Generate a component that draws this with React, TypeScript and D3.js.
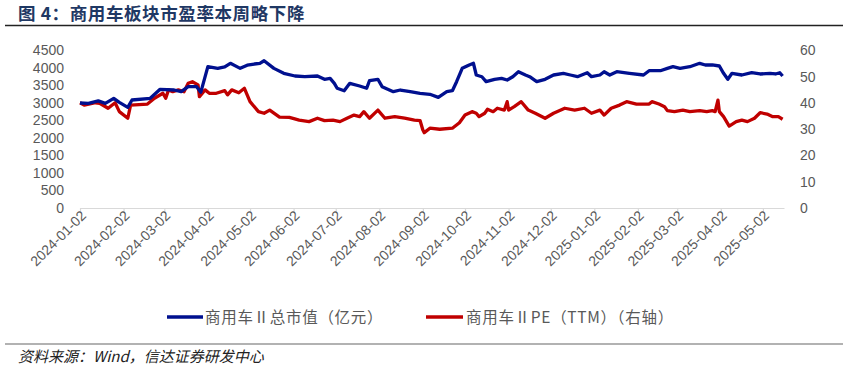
import React, { useEffect, useRef } from "react";
import * as d3 from "d3";

// 商用车Ⅱ总市值（亿元）
const capDates = [
  "2024-01-02", "2024-01-08", "2024-01-15", "2024-01-20", "2024-01-26", "2024-01-30",
  "2024-02-05", "2024-02-08", "2024-02-21", "2024-02-28", "2024-03-09", "2024-03-14",
  "2024-03-19", "2024-03-25", "2024-03-28", "2024-04-02", "2024-04-09", "2024-04-14",
  "2024-04-18", "2024-04-25", "2024-04-30", "2024-05-05", "2024-05-09", "2024-05-12",
  "2024-05-19", "2024-05-26", "2024-06-03", "2024-06-10", "2024-06-19", "2024-06-24",
  "2024-06-28", "2024-07-01", "2024-07-03", "2024-07-08", "2024-07-12", "2024-07-19",
  "2024-07-24", "2024-07-26", "2024-08-01", "2024-08-04", "2024-08-12", "2024-08-17",
  "2024-08-24", "2024-08-31", "2024-09-07", "2024-09-13", "2024-09-19", "2024-09-23",
  "2024-09-26", "2024-09-30", "2024-10-05", "2024-10-08", "2024-10-10", "2024-10-14",
  "2024-10-17", "2024-10-23", "2024-10-28", "2024-11-01", "2024-11-05", "2024-11-09",
  "2024-11-14", "2024-11-17", "2024-11-22", "2024-11-28", "2024-12-04", "2024-12-11",
  "2024-12-16", "2024-12-21", "2024-12-28", "2024-12-31", "2025-01-06", "2025-01-09",
  "2025-01-13", "2025-01-18", "2025-01-27", "2025-02-06", "2025-02-10", "2025-02-18",
  "2025-02-23", "2025-02-27", "2025-03-04", "2025-03-11", "2025-03-18", "2025-03-22",
  "2025-03-27", "2025-04-01", "2025-04-04", "2025-04-07", "2025-04-10", "2025-04-17",
  "2025-04-24", "2025-04-30", "2025-05-07", "2025-05-11", "2025-05-14", "2025-05-16",
];
const capValues = [
  3000, 2990, 3060, 2990, 3134, 3020,
  2877, 3086, 3134, 3391, 3371, 3323,
  3466, 3466, 3310, 4040, 3990, 4030,
  4134, 3990, 4080, 4114, 4134, 4208,
  3990, 3848, 3771, 3751, 3771, 3677,
  3705, 3562, 3420, 3351, 3562, 3486,
  3420, 3637, 3677, 3466, 3323, 3371,
  3323, 3277, 3248, 3162, 3323, 3351,
  3609, 3990, 4086, 4134, 3800, 3751,
  3609, 3677, 3705, 3657, 3751, 3894,
  3800, 3751, 3609, 3677, 3800, 3848,
  3800, 3751, 3865, 3751, 3800, 3894,
  3800, 3894, 3848, 3800, 3923, 3923,
  3990, 4037, 3990, 4037, 4134, 4086,
  4086, 4057, 3848, 3677, 3848, 3800,
  3865, 3829, 3848, 3829, 3865, 3771,
];

// 商用车ⅡPE（TTM）（右轴）
const peDates = [
  "2024-01-02", "2024-01-05", "2024-01-13", "2024-01-16", "2024-01-22", "2024-01-27",
  "2024-01-30", "2024-02-05", "2024-02-07", "2024-02-19", "2024-02-24", "2024-03-01",
  "2024-03-03", "2024-03-05", "2024-03-08", "2024-03-12", "2024-03-16", "2024-03-19",
  "2024-03-22", "2024-03-26", "2024-03-27", "2024-03-31", "2024-04-03", "2024-04-08",
  "2024-04-14", "2024-04-16", "2024-04-19", "2024-04-24", "2024-04-28", "2024-05-02",
  "2024-05-08", "2024-05-12", "2024-05-16", "2024-05-23", "2024-05-30", "2024-06-06",
  "2024-06-13", "2024-06-19", "2024-06-24", "2024-06-30", "2024-07-05", "2024-07-10",
  "2024-07-15", "2024-07-19", "2024-07-22", "2024-07-26", "2024-08-01", "2024-08-06",
  "2024-08-13", "2024-08-20", "2024-08-27", "2024-08-31", "2024-09-02", "2024-09-03",
  "2024-09-07", "2024-09-14", "2024-09-23", "2024-09-28", "2024-10-02", "2024-10-07",
  "2024-10-10", "2024-10-12", "2024-10-16", "2024-10-18", "2024-10-22", "2024-10-25",
  "2024-10-30", "2024-11-01", "2024-11-02", "2024-11-06", "2024-11-11", "2024-11-16",
  "2024-11-21", "2024-11-28", "2024-12-04", "2024-12-12", "2024-12-19", "2024-12-26",
  "2024-12-31", "2025-01-06", "2025-01-09", "2025-01-14", "2025-01-20", "2025-01-25",
  "2025-02-01", "2025-02-10", "2025-02-12", "2025-02-17", "2025-02-21", "2025-02-23",
  "2025-02-28", "2025-03-06", "2025-03-11", "2025-03-18", "2025-03-23", "2025-03-27",
  "2025-03-29", "2025-03-31", "2025-04-01", "2025-04-04", "2025-04-08", "2025-04-13",
  "2025-04-17", "2025-04-21", "2025-04-26", "2025-04-30", "2025-05-05", "2025-05-09",
  "2025-05-13", "2025-05-16",
];
const peValues = [
  40.1, 39.2, 40.1, 39.9, 38.0, 40.1,
  36.7, 34.2, 39.2, 39.6, 41.8, 43.7,
  41.8, 45.0, 44.3, 45.0, 44.3, 47.5,
  48.1, 46.9, 42.4, 45.0, 43.7, 43.7,
  44.7, 43.1, 45.0, 43.9, 45.6, 40.5,
  36.7, 36.1, 37.3, 34.6, 34.5, 33.5,
  32.9, 34.2, 33.3, 33.5, 32.9, 34.2,
  35.4, 34.8, 36.7, 34.2, 37.3, 34.2,
  34.8, 34.2, 33.5, 33.3, 29.7, 28.7,
  30.4, 30.0, 30.4, 32.5, 35.4, 36.7,
  36.1, 34.8, 36.1, 37.6, 36.7, 38.0,
  37.3, 40.5, 37.3, 38.6, 40.5, 37.3,
  36.1, 34.2, 36.1, 38.0, 37.3, 38.0,
  36.1, 37.3, 35.4, 38.0, 39.2, 40.5,
  39.6, 39.6, 40.5, 39.6, 38.6, 37.1,
  36.7, 37.3, 36.7, 37.1, 36.7, 37.1,
  36.7, 41.1, 36.7, 34.8, 31.2, 32.9,
  33.5, 32.9, 34.2, 36.3, 35.8, 34.8,
  34.8, 33.8,
];

const leftTicks = [0, 500, 1000, 1500, 2000, 2500, 3000, 3500, 4000, 4500];
const rightTicks = [0, 10, 20, 30, 40, 50, 60];
const xTickLabels = [
  "2024-01-02", "2024-02-02", "2024-03-02", "2024-04-02", "2024-05-02", "2024-06-02",
  "2024-07-02", "2024-08-02", "2024-09-02", "2024-10-02", "2024-11-02", "2024-12-02",
  "2025-01-02", "2025-02-02", "2025-03-02", "2025-04-02", "2025-05-02",
];

const W = 843, H = 370;
const plot = { left: 80, right: 784, top: 50.5, bottom: 208 };
const blue = "#00108F";
const red = "#C00000";
const grey = "#595959";

export default function App() {
  const ref = useRef<SVGSVGElement>(null);

  useEffect(() => {
    const svg = d3.select(ref.current);
    svg.selectAll("*").remove();
    const parse = d3.timeParse("%Y-%m-%d");

    const x = d3.scaleTime()
      .domain([parse("2024-01-02")!, parse("2025-05-17")!])
      .range([plot.left, plot.right]);
    const yL = d3.scaleLinear().domain([0, 4500]).range([plot.bottom, plot.top]);
    const yR = d3.scaleLinear().domain([0, 60]).range([plot.bottom, plot.top]);

    // x axis
    const xAxis = svg.append("g")
      .attr("transform", "translate(0," + plot.bottom + ")")
      .call(d3.axisBottom(x)
        .tickValues(xTickLabels.map(d => parse(d)!))
        .tickSize(5)
        .tickSizeOuter(0)
        .tickFormat(d3.timeFormat("%Y-%m-%d") as any));
    xAxis.select(".domain").attr("stroke", "#d9d9d9").attr("stroke-width", 1.2);
    xAxis.selectAll(".tick line").attr("stroke", "#d9d9d9").attr("stroke-width", 1.2);
    xAxis.selectAll(".tick text")
      .attr("fill", grey)
      .style("font-family", "'Liberation Sans', Arial, sans-serif")
      .style("font-size", "14px")
      .attr("text-anchor", "end")
      .attr("dy", "0.35em")
      .attr("transform", "translate(3,5) rotate(-45)")
      .attr("y", 0)
      .attr("x", 0);

    // left axis labels
    svg.append("g")
      .selectAll("text")
      .data(leftTicks)
      .enter().append("text")
      .attr("x", 64)
      .attr("y", d => yL(d))
      .attr("dy", "0.35em")
      .attr("text-anchor", "end")
      .attr("fill", grey)
      .style("font-family", "'Liberation Sans', Arial, sans-serif")
      .style("font-size", "14px")
      .text(d => d);

    // right axis labels
    svg.append("g")
      .selectAll("text")
      .data(rightTicks)
      .enter().append("text")
      .attr("x", 800)
      .attr("y", d => yR(d))
      .attr("dy", "0.35em")
      .attr("text-anchor", "start")
      .attr("fill", grey)
      .style("font-family", "'Liberation Sans', Arial, sans-serif")
      .style("font-size", "14px")
      .text(d => d);

    const capLine = d3.line<number>()
      .x((_, i) => x(parse(capDates[i])!))
      .y(d => yL(d));
    const peLine = d3.line<number>()
      .x((_, i) => x(parse(peDates[i])!))
      .y(d => yR(d));

    svg.append("path")
      .datum(peValues)
      .attr("fill", "none")
      .attr("stroke", red)
      .attr("stroke-width", 3.3)
      .attr("stroke-linejoin", "round")
      .attr("d", peLine);

    svg.append("path")
      .datum(capValues)
      .attr("fill", "none")
      .attr("stroke", blue)
      .attr("stroke-width", 3.3)
      .attr("stroke-linejoin", "round")
      .attr("d", capLine);
  }, []);

  const font = "'Noto Sans CJK SC', 'Liberation Sans', sans-serif";
  return (
    <div>
      <style>{"body{margin:0}"}</style>
      <svg ref={ref} width={W} height={H} style={{ display: "block", background: "#fff" }} />
      <svg width={W} height={H} style={{ position: "absolute", left: 0, top: 0, pointerEvents: "none" }}>
        <text x={18} y={20} fill="#1F3864" fontWeight="bold" fontSize={17.5} letterSpacing={0.6} fontFamily={font}>
          图 4：商用车板块市盈率本周略下降
        </text>
        <line x1={5} x2={843} y1={25.5} y2={25.5} stroke="#222" strokeWidth={1.5} />
        <line x1={167} x2={203} y1={317} y2={317} stroke={blue} strokeWidth={3.5} />
        <text x={205} y={322.5} fill={grey} fontSize={15.5} letterSpacing={0.7} fontFamily={font}>商用车Ⅱ总市值（亿元）</text>
        <line x1={426} x2={463} y1={317} y2={317} stroke={red} strokeWidth={3.5} />
        <text x={466} y={322.5} fill={grey} fontSize={15.5} letterSpacing={0.7} fontFamily={font}>商用车ⅡPE（TTM）（右轴）</text>
        <line x1={5} x2={843} y1={344} y2={344} stroke="#666" strokeWidth={1.2} />
        <text x={18} y={362} fill="#222" fontSize={15} fontStyle="italic" fontFamily={font}>
          资料来源：Wind，信达证券研发中心
        </text>
      </svg>
    </div>
  );
}
